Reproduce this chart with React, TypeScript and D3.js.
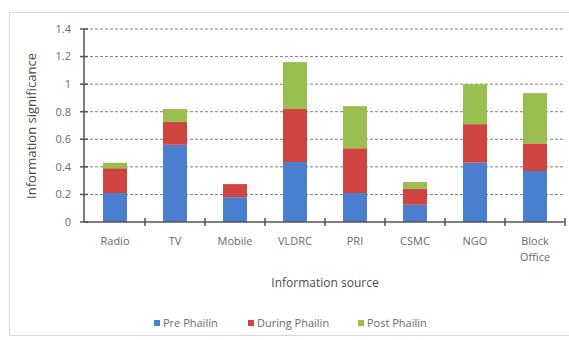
import React from "react";
import * as d3 from "d3";

const categories = ["Radio", "TV", "Mobile", "VLDRC", "PRI", "CSMC", "NGO", "Block Office"];
const prePhailin = [0.21, 0.56, 0.18, 0.435, 0.21, 0.125, 0.43, 0.37];
const duringPhailin = [0.18, 0.165, 0.095, 0.385, 0.325, 0.115, 0.28, 0.2];
const postPhailin = [0.04, 0.095, 0.0, 0.34, 0.305, 0.05, 0.29, 0.365];
const seriesNames = ["Pre Phailin", "During Phailin", "Post Phailin"];
const seriesColors = ["#4a7fcf", "#d0443f", "#99c04f"];
const yTicks = [0, 0.2, 0.4, 0.6, 0.8, 1, 1.2, 1.4];

const W = 569;
const H = 340;
const FONT = "'Open Sans', 'Liberation Sans', sans-serif";
const TEXT = "#6a6a6a";

export default function App() {
  const x = d3
    .scaleBand<string>()
    .domain(categories)
    .range([85, 565])
    .paddingInner(0.6)
    .paddingOuter(0.3);
  const y = d3.scaleLinear().domain([0, 1.4]).range([222, 29]);

  const rows = categories.map((c, i) => ({
    cat: c,
    pre: prePhailin[i],
    during: duringPhailin[i],
    post: postPhailin[i],
  }));
  const stacked = d3.stack<any>().keys(["pre", "during", "post"])(rows);

  const step = x.step();
  const bandLeft = 85;
  const boundaries = categories.map((_, i) => bandLeft + step * (i + 1));

  const legendX = [157, 251, 361];

  return (
    <svg
      width={W}
      height={H}
      style={{ position: "absolute", left: 0, top: 0, background: "#fff" }}
      fontFamily={FONT}
    >
      <rect x={9.5} y={12.5} width={570} height={323} fill="#fff" stroke="#d9d9d9" />

      {/* gridlines */}
      {yTicks
        .filter((t) => t > 0)
        .map((t) => (
          <line
            key={t}
            x1={85}
            x2={565}
            y1={y(t)}
            y2={y(t)}
            stroke="#808080"
            strokeWidth={1}
            strokeDasharray="3,2"
          />
        ))}

      {/* stacked bars */}
      {stacked.map((layer, si) =>
        layer.map((d, i) => (
          <rect
            key={`${si}-${i}`}
            x={x(categories[i])}
            y={y(d[1])}
            width={x.bandwidth()}
            height={Math.max(0, y(d[0]) - y(d[1]))}
            fill={seriesColors[si]}
          />
        ))
      )}

      {/* y axis */}
      <line x1={84} x2={84} y1={y(1.4)} y2={y(0)} stroke="#555" strokeWidth={1.5} />
      {yTicks.map((t) => (
        <g key={t}>
          <line x1={80} x2={88} y1={y(t)} y2={y(t)} stroke="#555" strokeWidth={1.5} />
          <text
            x={71}
            y={y(t)}
            dy="0.35em"
            textAnchor="end"
            fontSize={11}
            fill={TEXT}
          >
            {d3.format("~g")(t)}
          </text>
        </g>
      ))}

      {/* x axis */}
      <line x1={84} x2={565} y1={y(0)} y2={y(0)} stroke="#555" strokeWidth={1.5} />
      {boundaries.map((bx, i) => (
        <line key={i} x1={bx} x2={bx} y1={y(0) - 4} y2={y(0) + 4} stroke="#555" strokeWidth={1.5} />
      ))}
      {categories.map((c) => {
        const cx = (x(c) as number) + x.bandwidth() / 2;
        const parts = c === "Block Office" ? ["Block", "Office"] : [c];
        return (
          <text key={c} x={cx} y={245} textAnchor="middle" fontSize={11} fill={TEXT}>
            {parts.map((p, k) => (
              <tspan key={k} x={cx} dy={k === 0 ? 0 : 16}>
                {p}
              </tspan>
            ))}
          </text>
        );
      })}

      {/* axis titles */}
      <text x={325} y={287} textAnchor="middle" fontSize={12} fill="#4d4d4d">
        Information source
      </text>
      <text
        transform={`translate(36,126) rotate(-90)`}
        textAnchor="middle"
        fontSize={13}
        fill="#4d4d4d"
      >
        Information significance
      </text>

      {/* legend */}
      {seriesNames.map((n, i) => (
        <g key={n}>
          <rect x={legendX[i] - 3} y={320} width={6} height={6} fill={seriesColors[i]} />
          <text x={legendX[i] + 6} y={323} dy="0.35em" fontSize={11} fill={TEXT}>
            {n}
          </text>
        </g>
      ))}
    </svg>
  );
}
